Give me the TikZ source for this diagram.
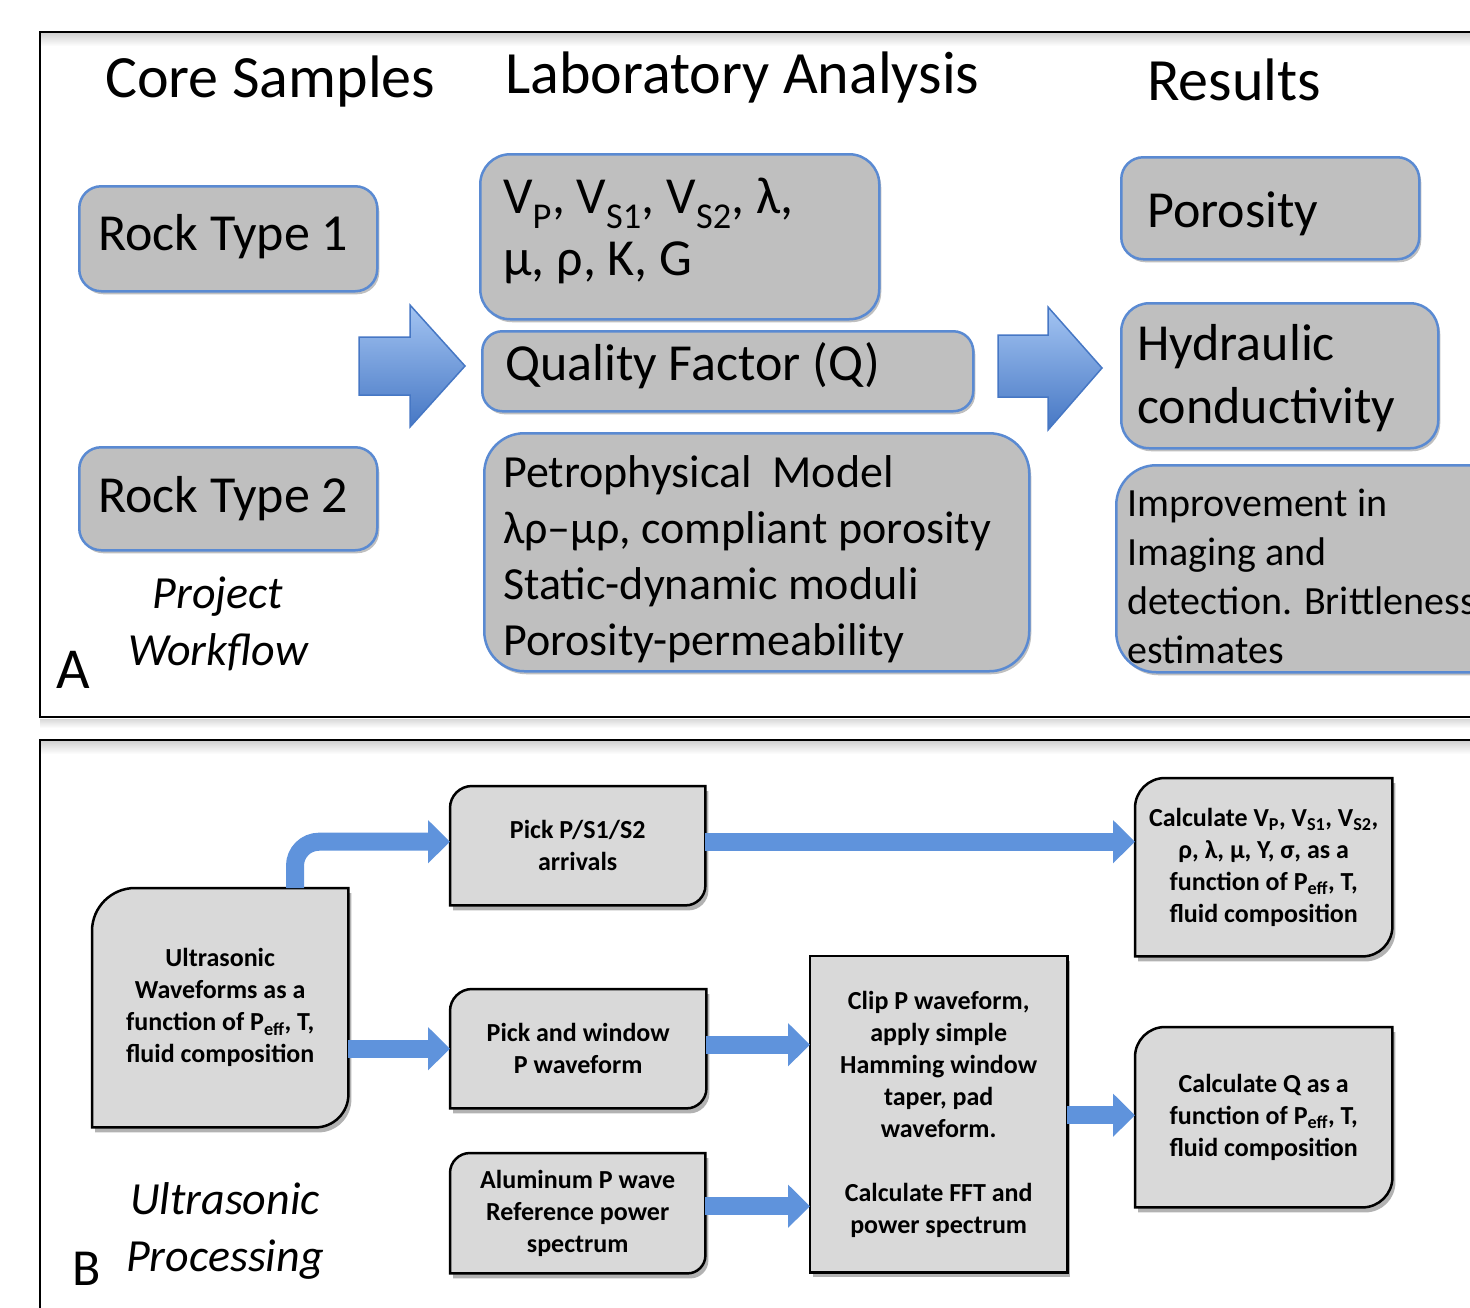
\documentclass[tikz,border=0pt]{standalone}
\usepackage{fontspec}
\setmainfont{Carlito}
\usetikzlibrary{arrows.meta,calc,shadows,backgrounds}
\definecolor{boxAfill}{HTML}{BFBFBF}
\definecolor{boxAline}{HTML}{5A8AD2}
\definecolor{boxBfill}{HTML}{D9D9D9}
\definecolor{arrblue}{HTML}{5F93DC}
\definecolor{arrlight}{HTML}{A3C4F2}
\definecolor{arrdark}{HTML}{4677C4}
\newcommand\cutbox[3]{%
  \draw[boxB] (#1.south west) -- ([yshift=-#2]#1.north west)
    arc[start angle=180,end angle=90,radius=#2] -- (#1.north east)
    -- ([yshift=#3]#1.south east)
    arc[start angle=0,end angle=-90,radius=#3] -- cycle;}
\begin{document}
\begin{tikzpicture}[x=1pt,y=1pt,
  boxA/.style={rectangle, rounded corners=#1, draw=boxAline, line width=2.5pt, fill=boxAfill,
     anchor=north west, inner sep=0pt,
     drop shadow={shadow xshift=2pt,shadow yshift=-3pt,opacity=.25,fill=black}},
  boxA/.default=22pt,
  txtA/.style={anchor=west, align=left, inner sep=0pt},
  boxB/.style={draw=black, line width=2.5pt, fill=boxBfill,
     drop shadow={shadow xshift=3pt,shadow yshift=-5pt,opacity=.3,fill=black}},
  nodeB/.style={rectangle, anchor=north west, inner sep=0pt, align=center,
     font=\fontsize{26}{32}\selectfont\bfseries},
  barrow/.style={line width=18pt, draw=arrblue,
     -{Triangle[width=42pt,length=22pt]}},
  bigarrow/.style={top color=arrlight, bottom color=arrdark, draw=arrdark, line width=1.5pt},
  title/.style={anchor=base west, inner sep=0pt, font=\fontsize{60}{72}\selectfont}
]
\useasboundingbox (0,0) rectangle (1470,-1307);

% ---------- Panel A frame
\shade[top color=black!18, bottom color=white] (41,-33) rectangle (1480,-46);
\draw[line width=2.5pt] (1480,-32) -- (40,-32) -- (40,-717) -- (1480,-717);
\shade[top color=black!15, bottom color=white] (40,-719) rectangle (1480,-728);

% titles
\node[title] (tcore) at (105,-97) {Core Samples};
\node[title] (tlab) at (505,-93) {Laboratory Analysis};
\node[title] (tres) at (1147,-100) {Results};

% rock type boxes
\node[boxA, minimum width=298pt, minimum height=105pt] (rock1) at (78,-185) {};
\node[txtA, font=\fontsize{52}{63}\selectfont] (rock1t) at ([xshift=20pt,yshift=2pt]rock1.west) {Rock Type 1};
\node[boxA, minimum width=298pt, minimum height=103pt] (rock2) at (78,-446) {};
\node[txtA, font=\fontsize{52}{63}\selectfont] (rock2t) at ([xshift=20pt]rock2.west) {Rock Type 2};

% big arrows
\shade[bigarrow] (359,-337) -- (410,-337) -- (410,-305) -- (465,-366) -- (410,-427) -- (410,-395) -- (359,-395) -- cycle;
\shade[bigarrow] (998,-335) -- (1048,-335) -- (1048,-307) -- (1102,-368) -- (1048,-430) -- (1048,-397) -- (998,-397) -- cycle;

% laboratory analysis boxes
\node[boxA=30pt, minimum width=399pt, minimum height=165pt] (vel) at (479,-153) {};
\node[txtA, font=\fontsize{52}{62}\selectfont] (velt) at ([xshift=24pt,yshift=6pt]vel.west)
  {V\textsubscript{P}, V\textsubscript{S1}, V\textsubscript{S2}, λ,\\μ, ρ, K, G};
\node[boxA=20pt, minimum width=491pt, minimum height=80pt] (qual) at (481,-330) {};
\node[txtA, font=\fontsize{52}{63}\selectfont] (qualt) at ([xshift=24pt,yshift=6pt]qual.west) {Quality Factor (Q)};
\node[boxA=40pt, minimum width=545pt, minimum height=238pt] (petro) at (483,-432) {};
\node[txtA, font=\fontsize{46}{56}\selectfont] (petrot) at ([xshift=20pt,yshift=-7pt]petro.west)
  {Petrophysical\ \ Model\\λρ–μρ, compliant porosity\\Static-dynamic moduli\\Porosity-permeability};

% results boxes
\node[boxA, minimum width=298pt, minimum height=102pt] (poro) at (1120,-156) {};
\node[txtA, font=\fontsize{52}{63}\selectfont] (porot) at ([xshift=27pt,yshift=-6pt]poro.west) {Porosity};
\node[boxA=28pt, minimum width=317pt, minimum height=145pt] (hyd) at (1120,-302) {};
\node[txtA, font=\fontsize{52}{63}\selectfont] (hydt) at ([xshift=17pt,yshift=-2pt]hyd.west) {Hydraulic\\conductivity};
\node[boxA=40pt, minimum width=400pt, minimum height=207pt] (impr) at (1115,-464) {};
\node[txtA, font=\fontsize{40}{49}\selectfont] (imprt) at ([xshift=12pt,yshift=-8pt]impr.west)
  {Improvement in\\Imaging and\\detection. Brittleness\\estimates};

% labels
\node[align=center, inner sep=0pt, font=\fontsize{46}{57}\selectfont\itshape] (projwf) at (218,-624) {Project\\Workflow};
\node[anchor=base west, inner sep=0pt, font=\fontsize{58}{70}\selectfont] (labA) at (56,-688) {A};

% ---------- Panel B frame
\shade[top color=black!18, bottom color=white] (41,-741) rectangle (1480,-754);
\draw[line width=2.5pt] (1480,-740) -- (40,-740) -- (40,-1320);

% nodes
\node[nodeB, minimum width=256pt, minimum height=239pt] (ultra) at (92,-888)
  {Ultrasonic\\Waveforms as a\\function of P\textsubscript{eff}, T,\\fluid composition};
\node[nodeB, minimum width=255pt, minimum height=119pt] (pick1) at (450,-786)
  {Pick P/S1/S2\\arrivals};
\node[nodeB, minimum width=256pt, minimum height=119pt] (pickw) at (450,-989)
  {Pick and window\\P waveform};
\node[nodeB, minimum width=255pt, minimum height=120pt] (alum) at (450,-1153)
  {Aluminum P wave\\Reference power\\spectrum};
\node[nodeB, minimum width=257pt, minimum height=316pt] (clip) at (810,-956)
  {Clip P waveform,\\apply simple\\Hamming window\\taper, pad\\waveform.\\[32pt]Calculate FFT and\\power spectrum};
\node[nodeB, minimum width=257pt, minimum height=178pt] (calcv) at (1135,-778)
  {Calculate V\textsubscript{P}, V\textsubscript{S1}, V\textsubscript{S2},\\ρ, λ, μ, Y, σ, as a\\function of P\textsubscript{eff}, T,\\fluid composition};
\node[nodeB, minimum width=257pt, minimum height=180pt] (calcq) at (1135,-1027)
  {Calculate Q as a\\function of P\textsubscript{eff}, T,\\fluid composition};

\begin{scope}[on background layer]
  \cutbox{ultra}{43pt}{33pt}
  \cutbox{pick1}{22pt}{20pt}
  \cutbox{pickw}{22pt}{20pt}
  \cutbox{alum}{20pt}{18pt}
  \draw[boxB] (clip.south west) rectangle (clip.north east);
  \cutbox{calcv}{30pt}{30pt}
  \cutbox{calcq}{30pt}{30pt}
\end{scope}

% connectors
\coordinate (p1e) at ([yshift=4pt]pick1.east);
\coordinate (p1w) at ([yshift=4pt]pick1.west);
\draw[barrow, rounded corners=24pt] ([xshift=203pt]ultra.north west) |- (p1w);
\draw[barrow] (p1e) -- (p1e -| calcv.west);
\draw[barrow] (pickw.west -| ultra.east) -- (pickw.west);
\coordinate (pwe) at ([yshift=4pt]pickw.east);
\draw[barrow] (pwe) -- (pwe -| clip.west);
\coordinate (ale) at ([yshift=7pt]alum.east);
\draw[barrow] (ale) -- (ale -| clip.west);
\coordinate (cqw) at ([yshift=2pt]calcq.west);
\draw[barrow] (cqw -| clip.east) -- (cqw);

\node[align=center, inner sep=0pt, font=\fontsize{46}{57}\selectfont\itshape] (ultproc) at (225,-1231) {Ultrasonic\\Processing};
\node[anchor=base west, inner sep=0pt, font=\fontsize{52}{62}\selectfont] (labB) at (72,-1285) {B};
\end{tikzpicture}
\end{document}
